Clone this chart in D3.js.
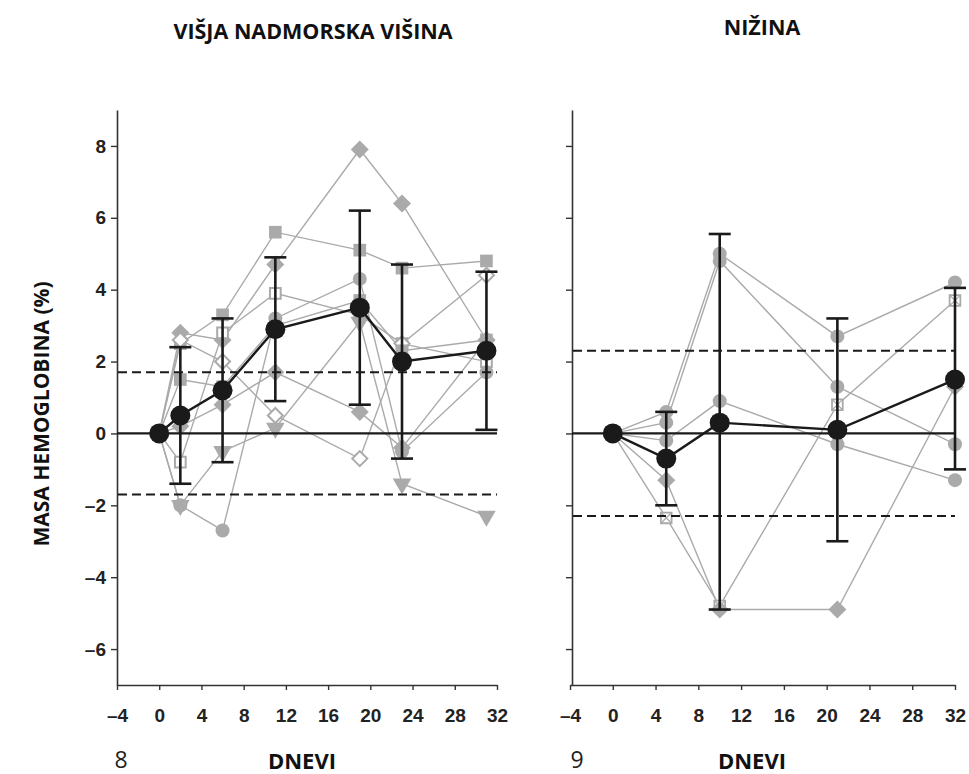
<!DOCTYPE html>
<html>
<head>
<meta charset="utf-8">
<script src="https://cdn.jsdelivr.net/npm/d3@7"></script>
<style>
  body { margin: 0; background: #fff; }
  svg { display: block; }
  .tick text { font-family: "Liberation Sans", Arial, sans-serif; font-weight: bold; font-size: 19px; fill: #222; }
</style>
</head>
<body>
<svg id="chart" width="969" height="774"></svg>
<script>
// ---- Panel 8: higher altitude ----
const altDays = [0, 2, 6, 11, 19, 23, 31];
const altMarkers = ["diamond", "square", "openSquare", "circle", "triangleDown", "openDiamond", "diamond", "square"];
const altS1 = [0, 2.8, 2.6, 4.7, 7.9, 6.4, 2.6];
const altS2 = [0, 2.5, 3.3, 5.6, 5.1, 4.6, 4.8];
const altS3 = [0, -0.8, 2.8, 3.9, 3.3, 2.5, 2.0];
const altS4 = [0, -2.0, -2.7, 3.2, 4.3, -0.5, 1.7];
const altS5 = [0, -2.0, -0.5, 0.15, 3.1, -1.4, -2.3];
const altS6 = [0, 2.6, 2.0, 0.5, -0.7, 2.5, 4.4];
const altS7 = [0, 0.2, 0.8, 1.7, 0.6, -0.4, 2.6];
const altS8 = [0, 1.5, 1.3, 3.0, 3.7, 2.3, 2.6];
const altMean = [0, 0.5, 1.2, 2.9, 3.5, 2.0, 2.3];
const altErrHigh = [null, 2.4, 3.2, 4.9, 6.2, 4.7, 4.5];
const altErrLow = [null, -1.4, -0.8, 0.9, 0.8, -0.7, 0.1];
const altLimit = 1.7;

// ---- Panel 9: lowland ----
const lowDays = [0, 5, 10, 21, 32];
const lowMarkers = ["circle", "circle", "crossSquare", "diamond", "circle"];
const lowA = [0, 0.6, 5.0, 2.7, 4.2];
const lowB = [0, 0.3, 4.8, 1.3, -0.3];
const lowC = [0, -2.35, -4.8, 0.8, 3.7];
const lowD = [0, -1.3, -4.9, -4.9, 1.3];
const lowE = [0, -0.2, 0.9, -0.3, -1.3];
const lowMean = [0, -0.7, 0.3, 0.1, 1.5];
const lowErrHigh = [null, 0.6, 5.55, 3.2, 4.05];
const lowErrLow = [null, -2.0, -4.9, -3.0, -1.0];
const lowLimit = 2.3;

// ---- Axes ----
const xTicks = [-4, 0, 4, 8, 12, 16, 20, 24, 28, 32];
const yTicks = [-6, -4, -2, 0, 2, 4, 6, 8];
const xDomain = [-4, 32];
const yDomain = [-7, 9];

const titleLeft = "VIŠJA NADMORSKA VIŠINA";
const titleRight = "NIŽINA";
const yLabel = "MASA HEMOGLOBINA (%)";
const xLabel = "DNEVI";

const svg = d3.select("#chart");
const GREY = "#aaaaaa";
const INK = "#1a1a1a";

function fmt(v) { return v < 0 ? "\u2013" + Math.abs(v) : String(v); }

// square turned 45 degrees, same width and height
const diamondPath = h => `M0,${-h}L${h},0L0,${h}L${-h},0Z`;

function marker(g, type, x, y) {
  if (type === "circle") {
    g.append("circle").attr("cx", x).attr("cy", y).attr("r", 7).attr("fill", GREY);
  } else if (type === "square") {
    g.append("path").attr("d", d3.symbol(d3.symbolSquare, 160)())
      .attr("transform", `translate(${x},${y})`).attr("fill", GREY);
  } else if (type === "openSquare") {
    g.append("path").attr("d", d3.symbol(d3.symbolSquare, 115)())
      .attr("transform", `translate(${x},${y})`).attr("fill", "#fff").attr("stroke", GREY).attr("stroke-width", 2);
  } else if (type === "crossSquare") {
    const s = 10.7 / 2;
    g.append("path").attr("d", d3.symbol(d3.symbolSquare, 115)())
      .attr("transform", `translate(${x},${y})`).attr("fill", "#fff").attr("stroke", GREY).attr("stroke-width", 1.8);
    g.append("path").attr("d", `M${x - s},${y - s}L${x + s},${y + s}M${x + s},${y - s}L${x - s},${y + s}`)
      .attr("stroke", GREY).attr("stroke-width", 1.2);
  } else if (type === "diamond") {
    g.append("path").attr("d", diamondPath(9))
      .attr("transform", `translate(${x},${y})`).attr("fill", GREY);
  } else if (type === "openDiamond") {
    g.append("path").attr("d", diamondPath(7.5))
      .attr("transform", `translate(${x},${y})`).attr("fill", "#fff").attr("stroke", GREY).attr("stroke-width", 2);
  } else if (type === "triangleDown") {
    g.append("path").attr("d", d3.symbol(d3.symbolTriangle, 150)())
      .attr("transform", `translate(${x},${y}) rotate(180)`).attr("fill", GREY);
  }
}

function panel(opts) {
  const x = d3.scaleLinear().domain(xDomain).range(opts.xRange);
  const y = d3.scaleLinear().domain(yDomain).range([685, 110]);
  const g = svg.append("g");

  // y axis
  const ya = g.append("g").attr("transform", `translate(${opts.yAxisX},0)`)
    .call(d3.axisLeft(y).tickValues(yTicks).tickSize(6).tickSizeOuter(0)
      .tickFormat(opts.yLabels ? fmt : () => ""));
  ya.select(".domain").attr("stroke", "#333").attr("stroke-width", 1.6);
  ya.selectAll(".tick line").attr("stroke", "#333").attr("stroke-width", 1.4);
  ya.selectAll(".tick text").attr("x", -11);

  // x axis
  const xa = g.append("g").attr("transform", `translate(0,685)`)
    .call(d3.axisBottom(x).tickValues(xTicks).tickSize(5).tickSizeOuter(0).tickFormat(fmt));
  xa.select(".domain").attr("stroke", "#333").attr("stroke-width", 1.6);
  xa.selectAll(".tick line").attr("stroke", "#333").attr("stroke-width", 1.4);
  xa.selectAll(".tick text").attr("y", 24);

  // individual subjects
  const line = d3.line().x((d, i) => x(opts.days[i])).y(d => y(d));
  const sg = g.append("g");
  opts.series.forEach(s => {
    sg.append("path").attr("d", line(s)).attr("fill", "none")
      .attr("stroke", GREY).attr("stroke-width", 1.4);
  });
  opts.series.forEach((s, k) => {
    s.forEach((v, i) => { if (i > 0) marker(sg, opts.markers[k], x(opts.days[i]), y(v)); });
  });

  // zero and limit lines
  const last = opts.refEnd;
  g.append("line").attr("x1", opts.yAxisX).attr("x2", x(last)).attr("y1", y(0)).attr("y2", y(0))
    .attr("stroke", INK).attr("stroke-width", 2.2);
  [opts.limit, -opts.limit].forEach(v => {
    g.append("line").attr("x1", opts.yAxisX + 1).attr("x2", x(last)).attr("y1", y(v)).attr("y2", y(v))
      .attr("stroke", INK).attr("stroke-width", 2).attr("stroke-dasharray", "9,5");
  });

  // error bars
  opts.days.forEach((d, i) => {
    if (opts.errHigh[i] == null) return;
    const cx = x(d);
    g.append("line").attr("x1", cx).attr("x2", cx).attr("y1", y(opts.errHigh[i])).attr("y2", y(opts.errLow[i]))
      .attr("stroke", INK).attr("stroke-width", 2.6);
    [opts.errHigh[i], opts.errLow[i]].forEach(v => {
      g.append("line").attr("x1", cx - 11).attr("x2", cx + 11).attr("y1", y(v)).attr("y2", y(v))
        .attr("stroke", INK).attr("stroke-width", 2.6);
    });
  });

  // group mean
  g.append("path").attr("d", line(opts.mean)).attr("fill", "none")
    .attr("stroke", INK).attr("stroke-width", 2.4);
  opts.mean.forEach((v, i) => {
    g.append("circle").attr("cx", x(opts.days[i])).attr("cy", y(v)).attr("r", 10).attr("fill", INK);
  });

  // titles
  g.append("text").attr("x", opts.titleX).attr("y", opts.titleY).attr("text-anchor", "middle")
    .attr("font-family", "Open Sans, sans-serif").attr("font-weight", "bold").attr("font-size", 21.5)
    .attr("fill", "#111").text(opts.title);
  g.append("text").attr("x", opts.xLabelX).attr("y", 769).attr("text-anchor", "middle")
    .attr("font-family", "Open Sans, sans-serif").attr("font-weight", "bold").attr("font-size", 22)
    .attr("fill", "#111").text(xLabel);
  g.append("text").attr("x", opts.numX).attr("y", 768).attr("text-anchor", "middle")
    .attr("font-family", "Open Sans, sans-serif").attr("font-size", 23)
    .attr("fill", "#222").text(opts.num);
}

panel({
  xRange: [117, 497], yAxisX: 117, yLabels: true,
  days: altDays,
  series: [altS1, altS2, altS3, altS4, altS5, altS6, altS7, altS8],
  markers: altMarkers,
  mean: altMean, errHigh: altErrHigh, errLow: altErrLow,
  limit: altLimit, refEnd: 32,
  title: titleLeft, titleX: 313, titleY: 39,
  xLabelX: 302, num: "8", numX: 121
});

panel({
  xRange: [570, 955], yAxisX: 572, yLabels: false,
  days: lowDays,
  series: [lowA, lowB, lowC, lowD, lowE],
  markers: lowMarkers,
  mean: lowMean, errHigh: lowErrHigh, errLow: lowErrLow,
  limit: lowLimit, refEnd: 32,
  title: titleRight, titleX: 762, titleY: 35,
  xLabelX: 752, num: "9", numX: 577
});

// shared y label
svg.append("text").attr("transform", "translate(49,414) rotate(-90)").attr("text-anchor", "middle")
  .attr("font-family", "Open Sans, sans-serif").attr("font-weight", "bold").attr("font-size", 21)
  .attr("fill", "#111").text(yLabel);
</script>
</body>
</html>
